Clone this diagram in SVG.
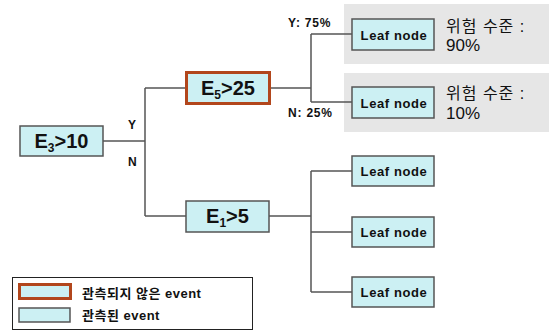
<svg xmlns="http://www.w3.org/2000/svg" width="551" height="331" viewBox="0 0 551 331">
<style>
.box{fill:#ccf0f3;stroke:#555;stroke-width:1.5}
.unobs{fill:#ccf0f3;stroke:#b2461c;stroke-width:3}
.line{fill:none;stroke:#555;stroke-width:1.5}
.panel{fill:#e6e6e6}
.big{font-family:"Liberation Sans",Arial,sans-serif;font-weight:bold;font-size:20px;fill:#111}
.sub{font-size:12px}
.leaf{font-family:"Liberation Sans",Arial,sans-serif;font-weight:bold;font-size:13px;fill:#111;letter-spacing:0.6px}
.lbl{font-family:"Liberation Sans",Arial,sans-serif;font-weight:bold;font-size:12px;fill:#111;letter-spacing:0.8px}
.risk{font-family:"Liberation Sans","Noto Sans CJK KR",sans-serif;font-size:16px;fill:#111;letter-spacing:1px}
.pct{font-family:"Liberation Sans",Arial,sans-serif;font-size:17px;fill:#111}
.leg{font-family:"Liberation Sans","Noto Sans CJK KR",sans-serif;font-weight:bold;font-size:13px;fill:#111;letter-spacing:0.5px}
</style>
<rect class="panel" x="344" y="4" width="205" height="60"/>
<rect class="panel" x="344" y="73" width="205" height="59"/>
<g id="connectors">
<path class="line" d="M103 141H145M145 88V216M145 88H186M145 216H186"/>
<path class="line" d="M270 88H311M311 34V102M311 34H352M311 102H352"/>
<path class="line" d="M269 216H311M311 171V292M311 171H352M311 232H352M311 292H352"/>
<text class="lbl" x="128" y="129">Y</text>
<text class="lbl" x="128" y="166">N</text>
<text class="lbl" x="288" y="27">Y: 75%</text>
<text class="lbl" x="288" y="117">N: 25%</text>
</g>
<g id="e3">
<rect class="box" x="20" y="126" width="83" height="30"/>
<text class="big" x="61.5" y="148" text-anchor="middle">E<tspan class="sub" dy="4">3</tspan><tspan dy="-4">&gt;10</tspan></text>
</g>
<g id="e5">
<rect class="unobs" x="186.5" y="72.5" width="83" height="31"/>
<text class="big" x="228" y="95" text-anchor="middle">E<tspan class="sub" dy="4">5</tspan><tspan dy="-4">&gt;25</tspan></text>
</g>
<g id="e1">
<rect class="box" x="186" y="201" width="83" height="31"/>
<text class="big" x="227.5" y="223" text-anchor="middle">E<tspan class="sub" dy="4">1</tspan><tspan dy="-4">&gt;5</tspan></text>
</g>
<g id="leaf1">
<rect class="box" x="352" y="19" width="82" height="31"/>
<text class="leaf" x="394" y="39.5" text-anchor="middle">Leaf node</text>
<text class="risk" x="446" y="32">위험 수준 :</text>
<text class="pct" x="446" y="51">90%</text>
</g>
<g id="leaf2">
<rect class="box" x="352" y="87" width="82" height="31"/>
<text class="leaf" x="394" y="107.5" text-anchor="middle">Leaf node</text>
<text class="risk" x="446" y="99">위험 수준 :</text>
<text class="pct" x="446" y="119">10%</text>
</g>
<g id="leaf3">
<rect class="box" x="352" y="156" width="82" height="30"/>
<text class="leaf" x="394" y="176" text-anchor="middle">Leaf node</text>
</g>
<g id="leaf4">
<rect class="box" x="352" y="217" width="82" height="30"/>
<text class="leaf" x="394" y="237" text-anchor="middle">Leaf node</text>
</g>
<g id="leaf5">
<rect class="box" x="352" y="277" width="82" height="30"/>
<text class="leaf" x="394" y="297" text-anchor="middle">Leaf node</text>
</g>
<g id="legend">
<rect x="12.5" y="277.5" width="240" height="52" fill="#fff" stroke="#222" stroke-width="1"/>
<rect class="unobs" x="19.5" y="284.5" width="51" height="14"/>
<rect class="box" x="19" y="308" width="51" height="14"/>
<text class="leg" x="82" y="298">관측되지 않은 event</text>
<text class="leg" x="82" y="320">관측된 event</text>
</g>
</svg>
